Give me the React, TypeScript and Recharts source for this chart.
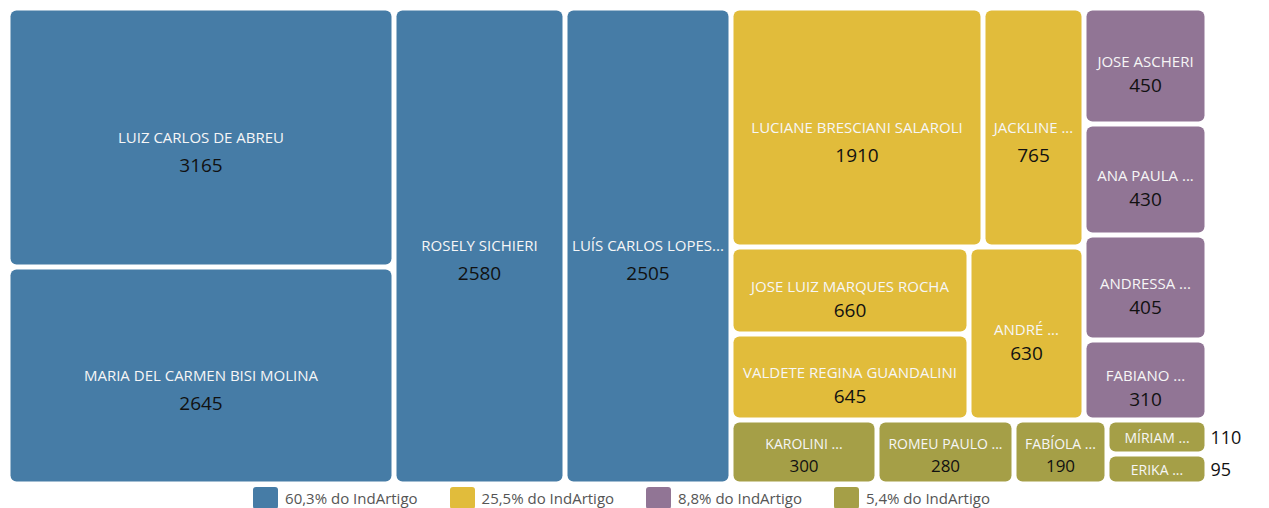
import { Treemap } from "recharts";

const blueNames = ["LUIZ CARLOS DE ABREU", "MARIA DEL CARMEN BISI MOLINA", "ROSELY SICHIERI", "LUÍS CARLOS LOPES..."];
const blueValues = [3165, 2645, 2580, 2505];
const yellowNames = ["LUCIANE BRESCIANI SALAROLI", "JACKLINE ...", "JOSE LUIZ MARQUES ROCHA", "VALDETE REGINA GUANDALINI", "ANDRÉ ..."];
const yellowValues = [1910, 765, 660, 645, 630];
const purpleNames = ["JOSE ASCHERI", "ANA PAULA ...", "ANDRESSA ...", "FABIANO ..."];
const purpleValues = [450, 430, 405, 310];
const oliveNames = ["KAROLINI ...", "ROMEU PAULO ...", "FABÍOLA ...", "MÍRIAM ...", "ERIKA ..."];
const oliveValues = [300, 280, 190, 110, 95];

const groupColors = ["#467ca6", "#e1bc3b", "#917595", "#a59f47"];
const groupNames = [blueNames, yellowNames, purpleNames, oliveNames];
const groupValues = [blueValues, yellowValues, purpleValues, oliveValues];

const total = groupValues.flat().reduce((a, b) => a + b, 0);

const tree = groupNames.map((names, g) => ({
  name: `grupo${g}`,
  children: names.map((n, i) => ({ name: n, value: groupValues[g][i], group: g })),
}));

const legendItems = groupValues.map((vals, g) => {
  const pct = ((vals.reduce((a, b) => a + b, 0) / total) * 100).toFixed(1).replace(".", ",");
  return { label: `${pct}% do IndArtigo`, color: groupColors[g] };
});

const FONT = "'Open Sans', 'Noto Sans', sans-serif";

function renderCell(props: any) {
  const { depth, x, y, width, height, name, value, group } = props;
  if (depth !== 2) return <g />;
  const gap = 2.5;
  const rx = x + gap;
  const ry = y + gap;
  const rw = width - gap * 2;
  const rh = height - gap * 2;
  const cx = rx + rw / 2;
  const cy = ry + rh / 2;
  const small = rh < 36;
  const short = rh < 70;
  const big = rh > 200;
  const nameY = small ? cy : short ? cy - 9 : big ? cy - 1 : cy - 5;
  const valueY = short ? cy + 13 : big ? cy + 27 : cy + 19;
  return (
    <g>
      <rect x={rx} y={ry} width={rw} height={rh} rx={6} ry={6} fill={groupColors[group]} stroke="none" />
      <text
        x={cx}
        y={nameY}
        textAnchor="middle"
        dominantBaseline="central"
        fill="#f6f6f6"
        fontSize={small || short ? 14 : 15}
        fontFamily={FONT}
      >
        {name}
      </text>
      {small ? (
        <text x={rx + rw + 6} y={cy} dominantBaseline="central" fill="#111" fontSize={18} fontFamily={FONT}>
          {value}
        </text>
      ) : (
        <text
          x={cx}
          y={valueY}
          textAnchor="middle"
          dominantBaseline="central"
          fill="#111"
          fontSize={short ? 17 : 19}
          fontFamily={FONT}
        >
          {value}
        </text>
      )}
    </g>
  );
}

export default function App() {
  return (
    <div style={{ width: 1253, height: 500, fontFamily: FONT }}>
      <style>{`.recharts-surface { overflow: visible; } .recharts-wrapper { overflow: visible; }`}</style>
      <Treemap
        width={1199}
        height={476}
        data={tree}
        dataKey="value"
        aspectRatio={1.7}
        isAnimationActive={false}
        content={renderCell}
      />
      <div
        style={{
          display: "flex",
          justifyContent: "center",
          width: 1227,
          marginTop: 3,
          gap: 32,
        }}
      >
        {legendItems.map((it) => (
          <div key={it.label} style={{ display: "flex", alignItems: "center", gap: 7 }}>
            <div style={{ width: 25, height: 22, borderRadius: 3, background: it.color }} />
            <span style={{ fontSize: 15, color: "#555" }}>{it.label}</span>
          </div>
        ))}
      </div>
    </div>
  );
}
